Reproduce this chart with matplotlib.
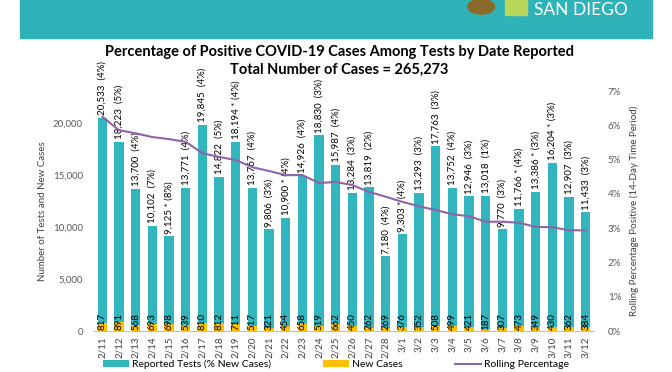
import numpy as np
import matplotlib.pyplot as plt
from matplotlib.patches import Rectangle, Circle

# datos
fechas = ["2/11", "2/12", "2/13", "2/14", "2/15", "2/16", "2/17", "2/18", "2/19", "2/20",
          "2/21", "2/22", "2/23", "2/24", "2/25", "2/26", "2/27", "2/28", "3/1", "3/2",
          "3/3", "3/4", "3/5", "3/6", "3/7", "3/8", "3/9", "3/10", "3/11", "3/12"]
pruebas = [20533, 18223, 13700, 10102, 9125, 13771, 19845, 14822, 18194, 13767,
           9806, 10900, 14926, 18830, 15987, 13284, 13819, 7180, 9303, 13293,
           17763, 13752, 12946, 13018, 9770, 11766, 13386, 16204, 12907, 11433]
asterisco = [0, 0, 0, 0, 1, 0, 0, 0, 1, 0,
             0, 1, 0, 0, 0, 0, 0, 0, 1, 0,
             0, 0, 0, 0, 0, 1, 1, 1, 0, 0]
porcentaje = [4, 5, 4, 7, 8, 4, 4, 5, 4, 4,
              3, 4, 4, 3, 4, 3, 2, 4, 4, 3,
              3, 4, 3, 1, 3, 4, 3, 3, 3, 3]
casos = [817, 891, 568, 693, 698, 539, 810, 812, 711, 517,
         321, 454, 658, 519, 662, 450, 262, 269, 376, 352,
         508, 499, 421, 187, 307, 473, 349, 430, 362, 384]
rolling = [6.25, 5.86, 5.77, 5.66, 5.6, 5.52, 5.19, 5.08, 4.99, 4.78,
           4.67, 4.55, 4.55, 4.32, 4.35, 4.26, 4.06, 3.92, 3.77, 3.64,
           3.53, 3.41, 3.35, 3.19, 3.19, 3.16, 3.04, 3.03, 2.94, 2.94]

plt.rcParams['font.family'] = ['Lato', 'DejaVu Sans']

teal = "#33b5bd"
naranja = "#ffc000"
morado = "#8e63a9"

fig = plt.figure(figsize=(6.72, 3.72), dpi=100)

# banda superior
fig.patches.append(Rectangle((0.03, 0.898), 0.94, 0.11, transform=fig.transFigure,
                             color="#2fb3b9", zorder=0))
fig.patches.append(Circle((0.716, 0.982), 0.02, transform=fig.transFigure,
                          color="#8a6a2a", zorder=1))
fig.patches.append(Rectangle((0.752, 0.96), 0.032, 0.05, transform=fig.transFigure,
                             color="#b8d65a", zorder=1))
fig.text(0.795, 0.972, "SAN DIEGO", color="white", fontsize=12.5, va="center", ha="left")

fig.text(0.505, 0.86, "Percentage of Positive COVID-19 Cases Among Tests by Date Reported",
         ha="center", va="center", fontsize=10.5, fontweight="bold")
fig.text(0.505, 0.812, "Total Number of Cases = 265,273",
         ha="center", va="center", fontsize=10.5, fontweight="bold")

ax = fig.add_axes([0.14, 0.11, 0.744, 0.645])
x = np.arange(len(fechas))
ax.bar(x, pruebas, width=0.56, color=teal, label="Reported Tests (% New Cases)", zorder=2)
ax.bar(x, casos, width=0.56, color=naranja, label="New Cases", zorder=3)

for i in range(len(x)):
    star = " * " if asterisco[i] else "  "
    ax.text(x[i], pruebas[i] + 250, f"{pruebas[i]:,}{star}({porcentaje[i]}%)",
            rotation=90, ha="center", va="bottom", fontsize=7, zorder=5)
    ax.text(x[i], 120, str(casos[i]), rotation=90, ha="center", va="bottom",
            fontsize=7, zorder=5)

ax.set_xlim(-0.5, len(x) - 0.5)
ax.set_ylim(0, 23077)
ax.set_yticks([0, 5000, 10000, 15000, 20000])
ax.set_yticklabels(["0", "5,000", "10,000", "15,000", "20,000"])
ax.set_xticks(x)
ax.set_xticklabels(fechas, rotation=90, fontsize=7, color="#404040")
ax.tick_params(axis="y", labelsize=7, labelcolor="#595959", length=0, pad=8)
ax.tick_params(axis="x", length=0, pad=4)
for s in ["top", "left", "right"]:
    ax.spines[s].set_visible(False)
ax.spines["bottom"].set_color("#bfbfbf")
ax.set_ylabel("Number of Tests and New Cases", fontsize=7, color="#404040", labelpad=4)

ax2 = ax.twinx()
ax2.plot(x, rolling, color=morado, lw=1.5, label="Rolling Percentage", zorder=4)
ax2.set_ylim(0, 7)
ax2.set_yticks(range(8))
ax2.set_yticklabels([f"{v}%" for v in range(8)])
ax2.tick_params(axis="y", labelsize=7, labelcolor="#595959", length=0, pad=10)
for s in ["top", "left", "right", "bottom"]:
    ax2.spines[s].set_visible(False)
ax2.set_ylabel("Rolling Percentage Positive (14-Day Time Period)", fontsize=7,
               color="#404040", labelpad=6)

h1, l1 = ax.get_legend_handles_labels()
h2, l2 = ax2.get_legend_handles_labels()
fig.legend(h1 + h2, l1 + l2, loc="center", bbox_to_anchor=(0.5, 0.02), ncol=3,
           frameon=False, fontsize=7.5, handlelength=2.5, columnspacing=5,
           handletextpad=0.3)

fig.savefig("out.png", dpi=100)
